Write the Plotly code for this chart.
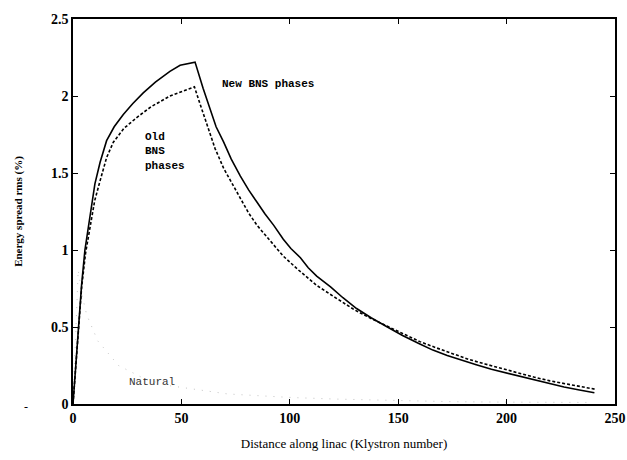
import plotly.graph_objects as go

# New BNS phases (solid)
x_new = [0, 1, 2.4, 4, 5.5, 7.5, 10.1, 12.5, 15.5, 19, 23.2, 27.5, 32.4, 38, 44.7, 49.4, 56.3,
         60, 63.3, 66, 69.5, 73, 77.2, 81, 84.9, 88.5, 92.6, 97, 100.5, 104.9, 108.5, 112.4, 118.8, 124.5,
         130.8, 137.5, 145, 152, 160, 166, 172.6, 179, 186, 193, 200.3, 206.5, 213, 220, 226.5, 233, 240.5]
y_new = [0, 0.2, 0.5, 0.78, 1.0, 1.2, 1.43, 1.57, 1.71, 1.8, 1.88, 1.95, 2.02, 2.09, 2.16, 2.2, 2.22,
         2.05, 1.91, 1.80, 1.70, 1.59, 1.48, 1.39, 1.31, 1.235, 1.16, 1.07, 1.01, 0.95, 0.885, 0.83, 0.76, 0.69,
         0.62, 0.56, 0.50, 0.445, 0.39, 0.35, 0.315, 0.285, 0.255, 0.225, 0.2, 0.178, 0.155, 0.13, 0.11, 0.092, 0.073]

# Old BNS phases (dashed)
x_old = [0, 2.4, 4, 5.8, 7.8, 10, 12.5, 15.5, 18.6, 23.5, 29.4, 36, 44.7, 50, 56,
         58.8, 61.8, 65.5, 69.5, 73.5, 77.2, 81, 84.9, 88.5, 92, 97, 104, 112.4, 120, 130,
         137.5, 145, 152.5, 160, 167.5, 175, 182.5, 190, 197.5, 205, 212.5, 220, 230, 241.2]
y_old = [0, 0.48, 0.76, 0.98, 1.15, 1.32, 1.45, 1.6, 1.7, 1.79, 1.86, 1.93, 2.0, 2.03, 2.06,
         1.94, 1.81, 1.66, 1.53, 1.43, 1.33, 1.24, 1.16, 1.10, 1.04, 0.96, 0.87, 0.77, 0.70, 0.61,
         0.555, 0.505, 0.455, 0.405, 0.365, 0.325, 0.29, 0.26, 0.23, 0.2, 0.175, 0.15, 0.125, 0.095]

# Natural (faint dotted)
x_nat = [0, 2.4, 4.3, 6.3, 11.4, 21, 33.5, 44, 71.5, 101, 121, 150, 175, 200, 240]
y_nat = [0, 0.87, 0.70, 0.58, 0.41, 0.25, 0.16, 0.12, 0.065, 0.042, 0.032, 0.022, 0.015, 0.012, 0.01]

x_ticks = [0, 50, 100, 150, 200, 250]
y_ticks = [0, 0.5, 1, 1.5, 2, 2.5]
y_tick_text = ["0", "0.5", "1", "1.5", "2", "2.5"]

fig = go.Figure()
fig.add_trace(go.Scatter(x=x_nat, y=y_nat, mode="lines",
                         line=dict(color="#c4c4c4", width=1, dash="1px,7px")))
fig.add_trace(go.Scatter(x=x_old, y=y_old, mode="lines",
                         line=dict(color="black", width=1.6, dash="3px,2px")))
fig.add_trace(go.Scatter(x=x_new, y=y_new, mode="lines",
                         line=dict(color="black", width=1.6)))

mono = dict(family="Liberation Mono", size=11, color="black")
fig.add_annotation(x=67.8, y=2.08, text="<b>New BNS phases</b>", showarrow=False,
                   xanchor="left", yanchor="middle", font=mono)
fig.add_annotation(x=32.3, y=1.64, text="<b>Old<br>BNS<br>phases</b>", showarrow=False,
                   xanchor="left", yanchor="middle", align="left", font=mono)
fig.add_annotation(x=24.9, y=0.14, text="Natural", showarrow=False,
                   xanchor="left", yanchor="middle", font=dict(family="Liberation Mono", size=11, color="#333"))
fig.add_annotation(xref="paper", yref="paper", x=-0.095, y=-0.03, text="-", showarrow=False,
                   font=dict(family="Liberation Serif", size=12, color="black"))

axis_common = dict(showgrid=False, zeroline=False, showline=True, linecolor="black", linewidth=1.5,
                   mirror="ticks", ticks="inside", ticklen=5, tickwidth=1.2, tickcolor="black",
                   automargin=False,
                   tickfont=dict(family="Liberation Serif", size=14, color="black"))

fig.update_layout(
    width=627, height=460,
    margin=dict(l=73, r=12, t=19, b=56),
    paper_bgcolor="white", plot_bgcolor="white",
    showlegend=False,
    xaxis=dict(range=[0, 250], tickvals=x_ticks, ticktext=["<b>%d</b>" % v for v in x_ticks],
               title=dict(text="Distance along linac (Klystron number)",
                          font=dict(family="Liberation Serif", size=13, color="black"), standoff=14),
               **axis_common),
    yaxis=dict(range=[0, 2.5], tickvals=y_ticks, ticktext=["<b>%s</b>" % t for t in y_tick_text],
               title=dict(text="<b>Energy spread rms (%)</b>",
                          font=dict(family="Liberation Serif", size=11, color="black"), standoff=26),
               **axis_common),
)

fig.write_html("out.html", config={"displayModeBar": False},
               post_script="document.body.style.margin='0';document.body.style.overflow='hidden';")
